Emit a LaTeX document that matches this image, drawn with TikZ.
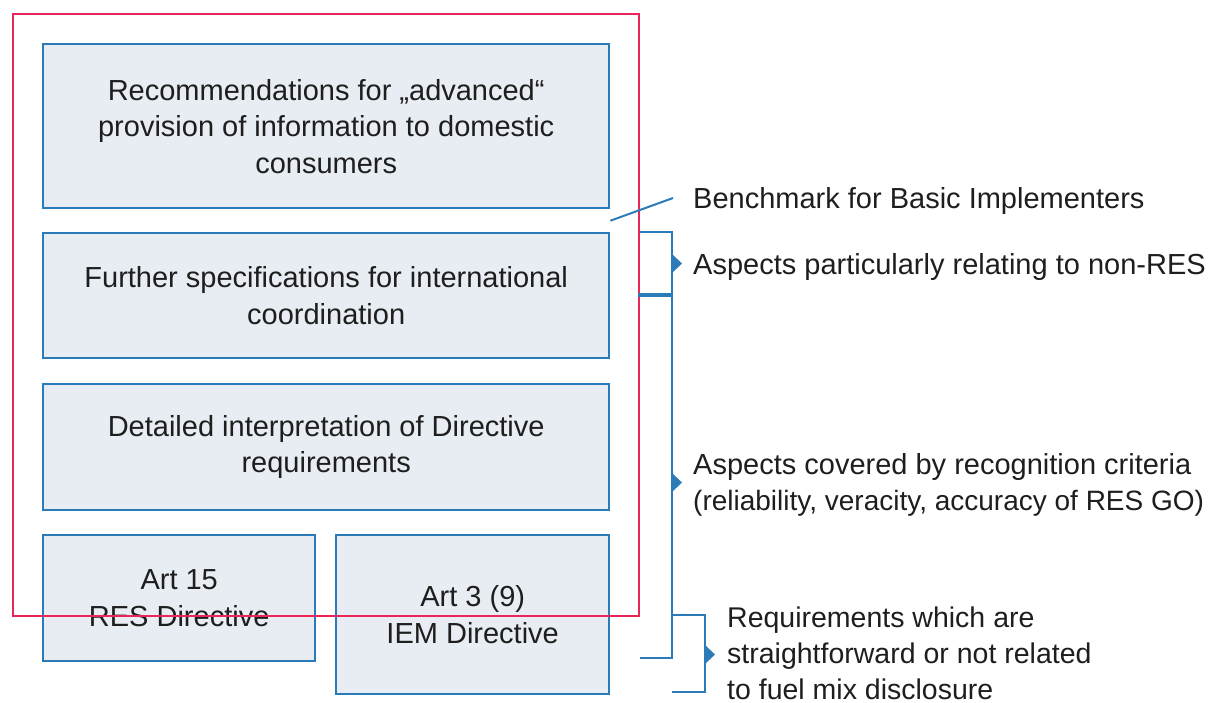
\documentclass[tikz,border=0pt]{standalone}
\usepackage{fontspec}
\setmainfont{Liberation Sans}
\usetikzlibrary{calc}
\definecolor{boxblue}{HTML}{2B7BB8}
\definecolor{boxfill}{HTML}{E8ECF3}
\definecolor{framered}{HTML}{E8265A}
\definecolor{txt}{HTML}{1E1E1E}

\begin{document}
\begin{tikzpicture}[x=1pt,y=-1pt,
  box/.style={draw=boxblue, line width=2.4pt, fill=boxfill, anchor=north west,
    align=center, inner sep=0pt, text=txt, font=\fontsize{29}{36.5}\selectfont},
  note/.style={anchor=west, align=left, inner sep=0pt, text=txt,
    font=\fontsize{29}{36}\selectfont},
  brk/.style={draw=boxblue, line width=2pt},
  tip/.style={fill=boxblue}]

\useasboundingbox (0,0) rectangle (1218,702);

% stacked requirement boxes
\node[box, minimum width=566pt, minimum height=164pt] (rec) at (42,43)
  {Recommendations for „advanced“\\provision of information to domestic\\consumers};
\node[box, minimum width=566pt, minimum height=125pt] (fur) at (42,232)
  {Further specifications for international\\coordination};
\node[box, minimum width=566pt, minimum height=126pt] (det) at (42,383)
  {Detailed interpretation of Directive\\requirements};
\node[box, minimum width=272pt, minimum height=126pt] (art15) at (42,534)
  {Art 15\\RES Directive};
\node[box, minimum width=273pt, minimum height=159pt] (art3) at (335,534)
  {Art 3 (9)\\IEM Directive};

% outer frame
\node[draw=framered, line width=2pt, anchor=north west, inner sep=0pt,
  minimum width=626pt, minimum height=602pt] (frame) at (12,13) {};

% right-hand annotations
\node[note] (bench) at (693,200.5) {Benchmark for Basic Implementers};
\node[note] (nonres) at (693,266.5) {Aspects particularly relating to non-RES};
\node[note] (recog) at (693,485) {Aspects covered by recognition criteria\\{\fontsize{28}{36}\selectfont(reliability, veracity, accuracy of RES GO)}};
\node[note, font=\fontsize{28.5}{36}\selectfont] (req) at (727,653) {Requirements which are\\straightforward or not related\\to fuel mix disclosure};

% bracket corner points
\coordinate (b1a) at (frame.east |- fur.north);
\coordinate (b1b) at (672,232);
\coordinate (mida) at (638,295);
\coordinate (midb) at (672,295);
\coordinate (b2b) at (672,658);
\coordinate (b2a) at (640,658);
\coordinate (b3a) at (672,615);
\coordinate (b3b) at (705,615);
\coordinate (b3c) at (705,692);
\coordinate (b3d) at (672,692);
\coordinate (benchend) at (673,198);

% benchmark pointer
\draw[brk] ($(rec.south east)!0.5!(fur.north east)$) -- (benchend);

% brackets
\draw[brk] (b1a) -- (b1b) -- (b2b) -- (b2a);
\draw[brk, line width=3.5pt] (mida) -- (midb);
\draw[brk] (b3a) -- (b3b) -- (b3c) -- (b3d);

% bracket tips
\fill[tip] (672,254) -- (682,263.5) -- (672,273) -- cycle;
\fill[tip] (672,473) -- (682,482.5) -- (672,492) -- cycle;
\fill[tip] (705,645) -- (715,654.5) -- (705,664) -- cycle;
\end{tikzpicture}
\end{document}
